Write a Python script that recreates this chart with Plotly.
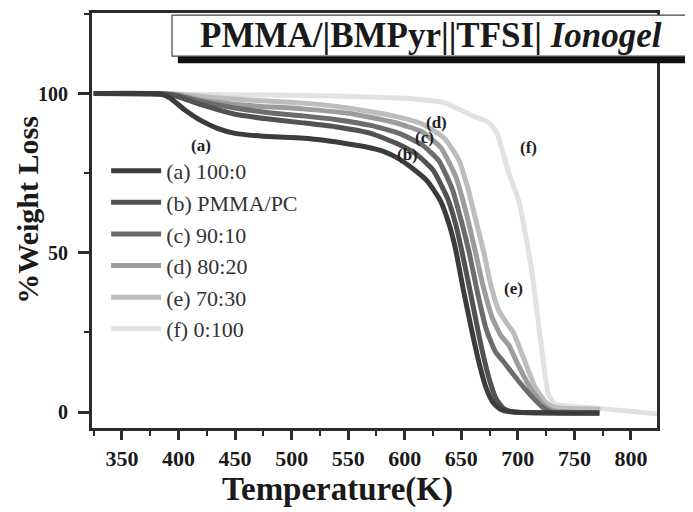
import plotly.graph_objects as go

# ---------------- data ----------------
a_T = [325, 385, 393, 405, 420, 435, 450, 475, 500, 525, 545, 565, 580, 595, 605, 620, 632, 640, 645, 652, 659, 666, 672, 678, 685, 695, 772]
a_W = [100, 99.8, 98.5, 95, 91.5, 89, 87.5, 86.6, 86.2, 85.5, 84.5, 83.3, 82, 79.5, 77, 72.5, 66, 58, 51, 38, 26, 15, 7.5, 3, 0.8, 0, -0.3]

b_T = [325, 390, 400, 420, 450, 480, 510, 540, 570, 595, 610, 625, 638, 645, 652, 660, 668, 675, 681, 688, 698, 772]
b_W = [100, 99.8, 99, 96.5, 93.5, 92, 90.8, 89.5, 87.5, 84, 81, 76, 67, 59, 48, 34, 20, 10, 4, 1, 0, -0.3]

c_T = [325, 390, 400, 420, 450, 480, 510, 540, 570, 595, 615, 630, 642, 650, 657, 664, 672, 680, 688, 700, 712, 722, 730, 772]
c_W = [100, 99.8, 99.3, 97.5, 95.5, 94, 93, 91.8, 90, 87.5, 84, 79, 70, 60, 50, 38, 26, 19, 15.5, 10, 5, 1.5, 0, -0.3]

d_T = [325, 395, 420, 460, 510, 550, 590, 615, 632, 645, 654, 662, 669, 677, 685, 692, 700, 712, 722, 730, 772]
d_W = [100, 99.8, 98, 96.3, 95.2, 93.8, 91, 88, 83, 74, 63, 51, 40, 30, 24, 21, 15, 7, 2.5, 0.5, -0.3]

e_T = [325, 400, 430, 470, 510, 550, 590, 615, 635, 648, 656, 663, 670, 676, 683, 690, 696, 705, 715, 725, 733, 773]
e_W = [100, 99.8, 98.8, 97.8, 97, 95.5, 93, 90.5, 86, 79, 70, 60, 50, 40, 32, 28, 25, 17, 8, 3, 1.5, 1]

f_T = [325, 500, 600, 636, 660, 674, 681, 692, 701, 712, 721, 727, 733, 760, 823]
f_W = [100, 99.5, 98.5, 97, 93, 91, 88, 75, 66, 45, 20, 5.6, 2.5, 1.5, -0.5]

series_names = ["(a) 100:0", "(b) PMMA/PC", "(c) 90:10", "(d) 80:20", "(e) 70:30", "(f) 0:100"]
series_T = [a_T, b_T, c_T, d_T, e_T, f_T]
series_W = [a_W, b_W, c_W, d_W, e_W, f_W]
series_colors = ["#3c3c3c", "#525252", "#6c6c6c", "#9c9c9c", "#bdbdbd", "#e2e2e2"]

label_text = ["(a)", "(b)", "(c)", "(d)", "(e)", "(f)"]
label_T = [419.7, 602.3, 617.2, 627.7, 696.3, 709.4]
label_W = [83.75, 80.9, 86.25, 90.9, 38.75, 83.1]

x_ticks = [350, 400, 450, 500, 550, 600, 650, 700, 750, 800]
y_ticks = [0, 50, 100]

SERIF = "Liberation Serif"

fig = go.Figure()
# draw light ones first so the dark ones sit on top
for i in reversed(range(6)):
    fig.add_trace(go.Scatter(
        x=series_T[i], y=series_W[i], mode="lines", name=series_names[i],
        line=dict(color=series_colors[i], width=5, shape="spline", smoothing=0.5),
        legendrank=i + 1,
    ))

for t, xv, yv in zip(label_text, label_T, label_W):
    fig.add_annotation(x=xv, y=yv, text=t, showarrow=False, xref="x", yref="y",
                       font=dict(family=SERIF, size=17, color="#222", weight="bold"))

# title box with drop shadow
fig.add_shape(type="rect", xref="paper", yref="paper", x0=0.152, x1=1.07, y0=0.879, y1=0.91,
              fillcolor="#111", line=dict(width=0), layer="above")
fig.add_shape(type="rect", xref="paper", yref="paper", x0=0.1416, x1=1.07, y0=0.896, y1=0.995,
              fillcolor="white", line=dict(color="#444", width=1.2), layer="above")
fig.add_annotation(xref="paper", yref="paper", x=0.600, y=0.946, xanchor="center", yanchor="middle",
                   showarrow=False, text="PMMA/|BMPyr||TFSI| <i>Ionogel</i>",
                   font=dict(family=SERIF, size=35, color="#1a1a1a", weight="bold"))

# axis titles (placed where the reference has them)
fig.add_annotation(xref="paper", yref="paper", x=0.435, y=-0.148, xanchor="center", yanchor="middle",
                   showarrow=False, text="Temperature(K)",
                   font=dict(family=SERIF, size=33, color="#1a1a1a", weight="bold"))
fig.add_annotation(xref="paper", yref="paper", x=0, xshift=-64, y=0.526, xanchor="center", yanchor="middle",
                   textangle=-90, showarrow=False, text="%Weight Loss",
                   font=dict(family=SERIF, size=30, color="#1a1a1a", weight="bold"))

axis_common = dict(showline=True, linecolor="#2a2a2a", linewidth=3, mirror=True,
                   ticks="outside", tickwidth=2.5, tickcolor="#2a2a2a",
                   showgrid=False, zeroline=False)

fig.update_layout(
    width=693, height=512,
    margin=dict(l=84, r=44, t=2, b=92),
    paper_bgcolor="white", plot_bgcolor="white",
    xaxis=dict(range=[323.5, 823], tickvals=x_ticks, ticklen=9,
               tickfont=dict(family=SERIF, size=22, color="#1a1a1a", weight="bold"),
               minor=dict(ticks="outside", dtick=25, tick0=325, ticklen=5, tickwidth=2, tickcolor="#2a2a2a"),
               **axis_common),
    yaxis=dict(range=[-5, 125.3], tickvals=y_ticks, ticklen=11, ticklabelstandoff=6,
               tickfont=dict(family=SERIF, size=20, color="#1a1a1a", weight="bold"),
               minor=dict(ticks="outside", dtick=25, tick0=0, ticklen=5, tickwidth=2, tickcolor="#2a2a2a"),
               **axis_common),
    showlegend=True,
    legend=dict(x=0.025, y=0.67, xanchor="left", yanchor="top", bgcolor="rgba(0,0,0,0)",
                font=dict(family=SERIF, size=22, color="#333"), tracegroupgap=0,
                itemwidth=50, traceorder="normal"),
)

fig.write_html("out.html")
